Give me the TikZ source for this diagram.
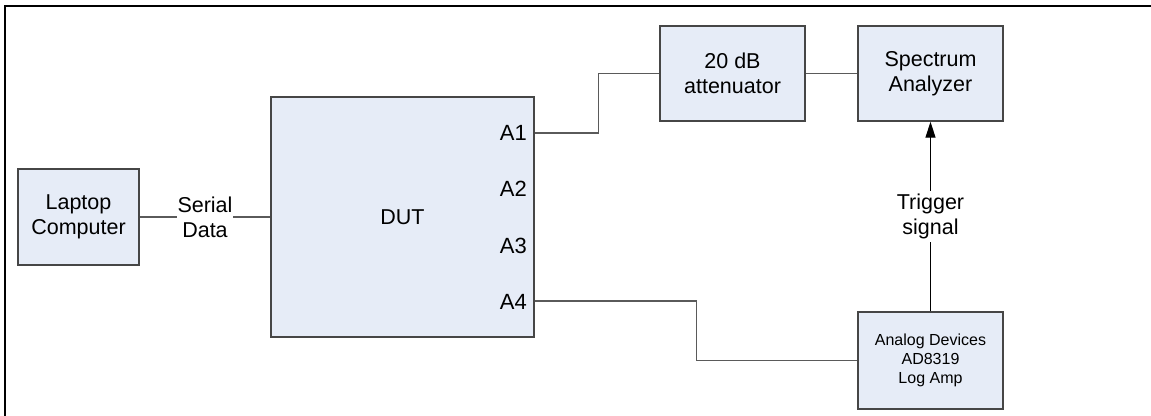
\documentclass[tikz,border=0pt]{standalone}
\usepackage{fontspec}
\setmainfont{Liberation Sans}
\usetikzlibrary{arrows.meta}
\definecolor{boxfill}{RGB}{230,236,247}
\definecolor{boxedge}{RGB}{70,70,70}
\definecolor{wire}{RGB}{90,90,90}
\tikzset{
  block/.style={draw=boxedge, line width=1.4pt, fill=boxfill, inner sep=0pt,
    align=center, font=\fontsize{21.5}{25}\selectfont},
  smallblock/.style={block, font=\fontsize{16}{19}\selectfont},
  wireline/.style={draw=wire, line width=1.4pt},
  lbl/.style={font=\fontsize{21.5}{25}\selectfont, align=center, inner sep=1pt},
  portlbl/.style={font=\fontsize{22}{25}\selectfont, anchor=east, inner sep=0pt}
}
\begin{document}
\begin{tikzpicture}[x=1pt, y=-1pt]
  \useasboundingbox (0,0) rectangle (1151,415);
  \clip (0,0) rectangle (1151,415);
  % outer frame
  \draw[line width=2.4pt, black] (5,6) rectangle (1170,430);

  % blocks
  \node[block, minimum width=121pt, minimum height=96pt] (laptop) at (78.5,217) {Laptop\\Computer};
  \node[block, minimum width=263pt, minimum height=240pt] (dut) at (402.5,217) {DUT};
  \node[block, minimum width=145pt, minimum height=95pt] (atten) at (732.5,73.5) {20 dB\\attenuator};
  \node[block, minimum width=145pt, minimum height=95pt] (spec) at (930.5,73.5) {Spectrum\\Analyzer};
  \node[smallblock, minimum width=145pt, minimum height=97pt] (logamp) at (930.5,360.5) {Analog Devices\\AD8319\\Log Amp};

  % DUT ports
  \coordinate (p1) at (dut.east |- 0,133);
  \coordinate (p4) at (dut.east |- 0,301);
  \node[portlbl] (a1) at (527,133) {A1};
  \node[portlbl] (a2) at (527,189) {A2};
  \node[portlbl] (a3) at (527,246) {A3};
  \node[portlbl] (a4) at (527,302) {A4};

  % connections
  \draw[wireline] (laptop.east) -- node[lbl, fill=white] (serial) {Serial\\Data} (dut.west);
  \draw[wireline] (p1) -- ++(64,0) |- (atten.west);
  \draw[wireline] (atten.east) -- (spec.west);
  \draw[wireline] (p4) -- ++(162,0) |- (logamp.west);
  \draw[wireline, draw=black, line width=1.2pt, -{Triangle[length=16pt, width=10pt]}]
    (logamp.north) -- node[lbl, fill=white, inner sep=3pt] (trig) {Trigger\\signal} (spec.south);
\end{tikzpicture}
\end{document}
